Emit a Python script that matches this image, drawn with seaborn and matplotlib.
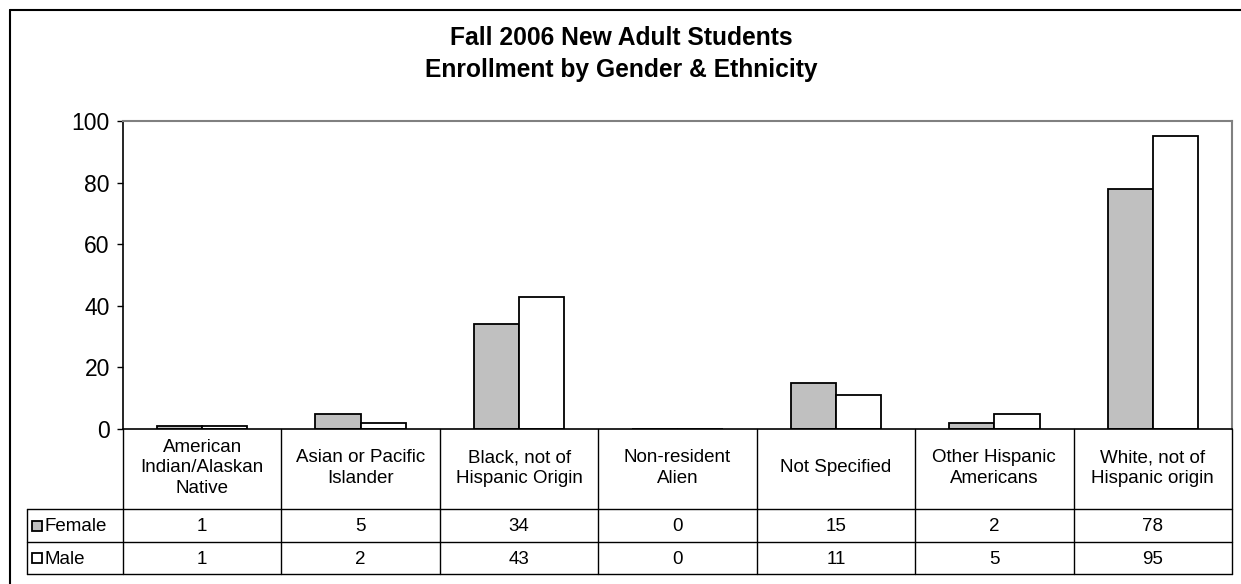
import matplotlib
matplotlib.use("Agg")
import matplotlib.pyplot as plt
from matplotlib.lines import Line2D
from matplotlib.patches import Rectangle
import seaborn as sns
import pandas as pd

categories = ["American Indian/Alaskan Native", "Asian or Pacific Islander",
              "Black, not of Hispanic Origin", "Non-resident Alien",
              "Not Specified", "Other Hispanic Americans",
              "White, not of Hispanic origin"]
header_labels = ["American\nIndian/Alaskan\nNative", "Asian or Pacific\nIslander",
                 "Black, not of\nHispanic Origin", "Non-resident\nAlien",
                 "Not Specified", "Other Hispanic\nAmericans",
                 "White, not of\nHispanic origin"]
female = [1, 5, 34, 0, 15, 2, 78]
male = [1, 2, 43, 0, 11, 5, 95]
series = ["Female", "Male"]
yticks = [0, 20, 40, 60, 80, 100]

df = pd.DataFrame({
    "Ethnicity": categories * 2,
    "Gender": ["Female"] * len(categories) + ["Male"] * len(categories),
    "Count": female + male,
})

sns.set_style("white")
plt.rcParams["font.family"] = ["Liberation Sans", "DejaVu Sans"]
plt.rcParams["text.color"] = "black"
plt.rcParams["axes.labelcolor"] = "black"
plt.rcParams["xtick.color"] = "black"
plt.rcParams["ytick.color"] = "black"

W, H = 1241, 584
fig = plt.figure(figsize=(W / 100, H / 100), dpi=100)
fig.patch.set_facecolor("white")

L, R, T, B = 123, 1232, 121, 429
ax = fig.add_axes([L / W, 1 - B / H, (R - L) / W, (B - T) / H])

colors = {"Female": "#C0C0C0", "Male": "#FFFFFF"}
sns.barplot(data=df, x="Ethnicity", y="Count", hue="Gender", order=categories,
            hue_order=series, palette=colors, edgecolor="black", linewidth=1.3,
            width=0.571, gap=0, legend=False, ax=ax, saturation=1)

ax.set_xlim(-0.5, len(categories) - 0.5)
ax.set_ylim(0, 100)
ax.set_yticks(yticks)
ax.set_yticklabels([str(v) for v in yticks], fontsize=16.5, color="black")
ax.set_xticks([])
ax.set_xlabel("")
ax.set_ylabel("")
ax.tick_params(axis="y", direction="out", length=4.5, width=1, color="black",
               pad=5, left=True)
for side in ["left", "bottom"]:
    ax.spines[side].set_color("black")
    ax.spines[side].set_linewidth(1.2)
for side in ["top", "right"]:
    ax.spines[side].set_visible(True)
    ax.spines[side].set_color("#808080")
    ax.spines[side].set_linewidth(1.5)

# Title
fig.text(621 / W, 1 - 54 / H, "Fall 2006 New Adult Students\nEnrollment by Gender & Ethnicity",
         ha="center", va="center", fontsize=17.7, fontweight="bold", linespacing=1.42,
         color="black")

# Data table (pixel-based helpers)
def fx(px):
    return px / W

def fy(py):
    return 1 - py / H

def line(x0, y0, x1, y1, color="black", lw=1.0):
    fig.add_artist(Line2D([fx(x0), fx(x1)], [fy(y0), fy(y1)], color=color, lw=lw,
                          transform=fig.transFigure, clip_on=False))

row_top, row1, row2, row3 = 429, 509, 542, 574
leg_left = 27
n = len(categories)
colw = (R - L) / n

for i in range(n + 1):
    x = L + i * colw
    line(x, row_top, x, row3)
line(leg_left, row1, leg_left, row3)
for y in (row1, row2, row3):
    line(leg_left, y, R, y)

for i, lab in enumerate(header_labels):
    cx = L + (i + 0.5) * colw
    fig.text(fx(cx), fy((row_top + row1) / 2 - 1), lab, ha="center", va="center",
             fontsize=13.5, linespacing=1.25, color="black")
    fig.text(fx(cx), fy((row1 + row2) / 2 + 1), str(female[i]), ha="center",
             va="center", fontsize=13.5, color="black")
    fig.text(fx(cx), fy((row2 + row3) / 2 + 1), str(male[i]), ha="center",
             va="center", fontsize=13.5, color="black")

for name, (ya, yb) in zip(series, [(row1, row2), (row2, row3)]):
    cy = (ya + yb) / 2
    fig.add_artist(Rectangle((fx(32), fy(cy + 5)), 10 / W, 10 / H,
                             facecolor=colors[name], edgecolor="black", lw=1.3,
                             transform=fig.transFigure))
    fig.text(fx(44), fy(cy + 1), name, ha="left", va="center", fontsize=13.5,
             color="black")

# Outer chart border (left and top visible)
line(9.5, 10, 9.5, H + 5, lw=1.5)
line(9.5, 10, W + 5, 10, lw=1.5)

fig.savefig("out.png", dpi=100, facecolor="white")
